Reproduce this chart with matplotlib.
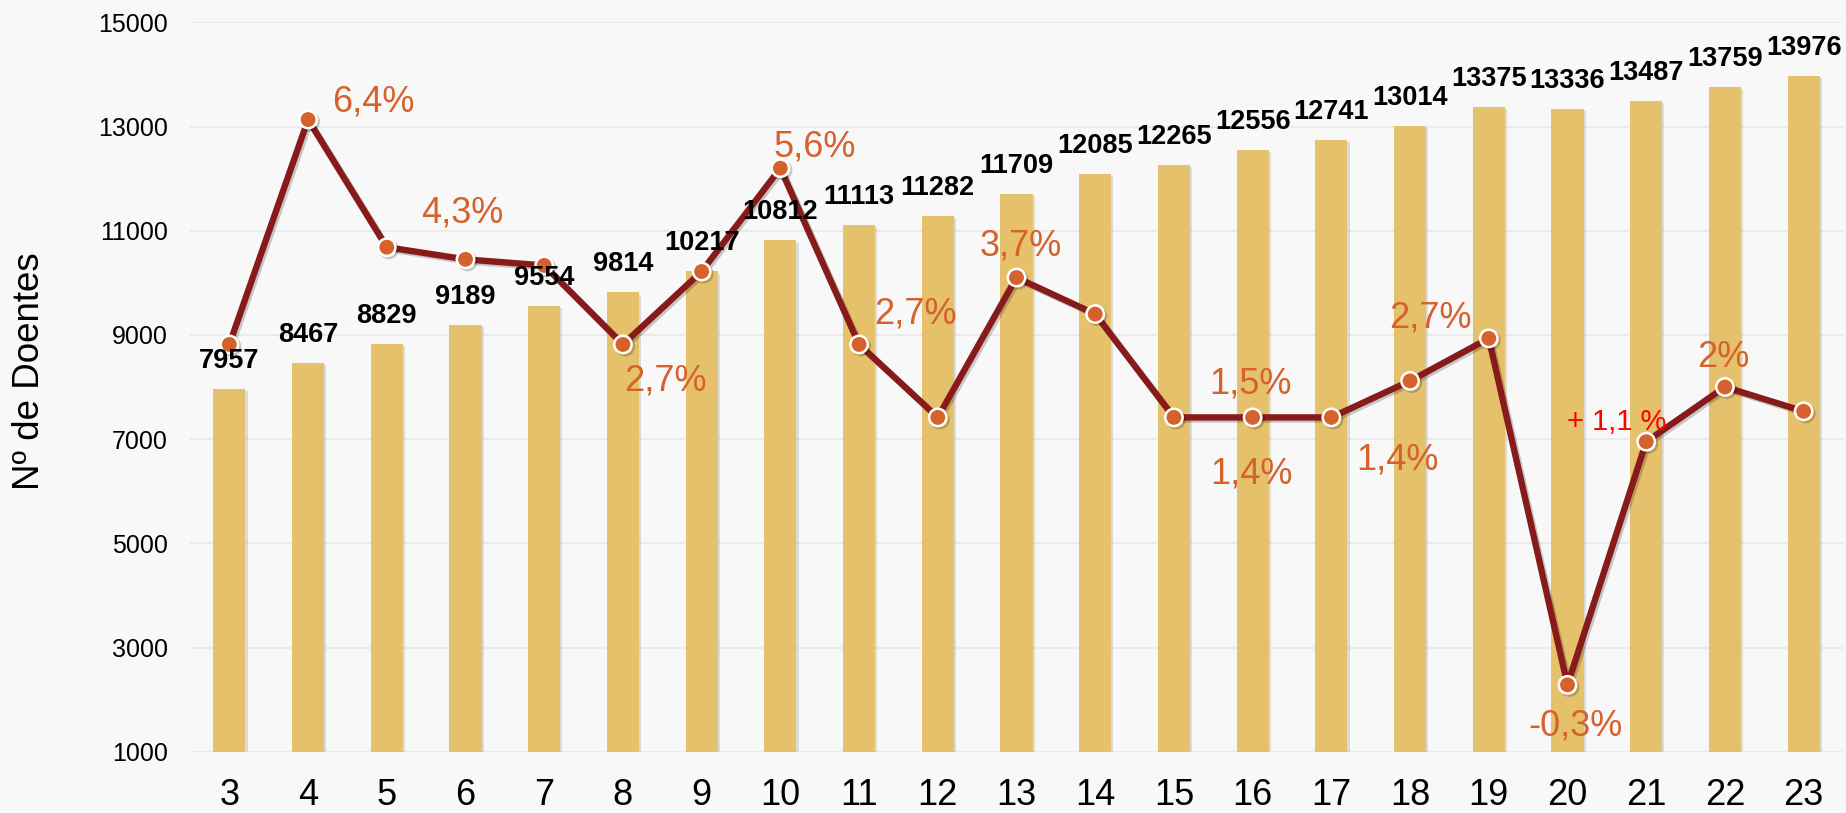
import matplotlib
matplotlib.use("Agg")
import matplotlib.pyplot as plt
import matplotlib.patheffects as pe

plt.rcParams['font.family'] = ['Liberation Sans', 'DejaVu Sans']

# ---- data ----
categories = ['3', '4', '5', '6', '7', '8', '9', '10', '11', '12', '13',
              '14', '15', '16', '17', '18', '19', '20', '21', '22', '23']
doentes = [7957, 8467, 8829, 9189, 9554, 9814, 10217, 10812, 11113, 11282, 11709,
           12085, 12265, 12556, 12741, 13014, 13375, 13336, 13487, 13759, 13976]
crescimento = [2.7, 6.4, 4.3, 4.1, 4.0, 2.7, 3.9, 5.6, 2.7, 1.5, 3.8,
               3.2, 1.5, 1.5, 1.5, 2.1, 2.8, -2.9, 1.1, 2.0, 1.6]
yticks = [1000, 3000, 5000, 7000, 9000, 11000, 13000, 15000]

# growth annotations: text, (x category index, y in primary units of baseline)
pct_labels = ['6,4%', '4,3%', '2,7%', '5,6%', '2,7%', '3,7%', '1,5%',
              '1,4%', '1,4%', '2,7%', '-0,3%', '2%']
pct_pos = [(1.83, 13290), (2.96, 11150), (5.54, 7930), (7.43, 12420),
           (8.72, 9220), (10.05, 10520), (12.97, 7880), (12.99, 6150),
           (14.84, 6420), (15.26, 9150), (17.10, 1320), (18.98, 8390)]
red_label = '+ 1,1 %'
red_pos = (17.63, 7175)

# ---- style ----
bg = '#F8F8F8'
bar_color = '#E6C16B'
line_color = '#871B1B'
marker_color = '#D5612B'
text_orange = '#D5612B'

fig = plt.figure(figsize=(18.46, 8.13), dpi=100, facecolor=bg)
ax = fig.add_axes([190 / 1846, 1 - 751.7 / 813, (1843 - 190) / 1846, 729.4 / 813])
ax.set_facecolor(bg)

x = list(range(len(categories)))
bars = ax.bar(x, doentes, width=0.41, bottom=0, color=bar_color, zorder=2)
for b in bars:
    b.set_path_effects([pe.SimplePatchShadow(offset=(1.5, -1.5), shadow_rgbFace='#888888', alpha=0.25),
                        pe.Normal()])

ax.set_ylim(1000, 15000)
ax.set_xlim(-0.5, len(categories) - 0.5)
ax.set_yticks(yticks)
ax.set_yticklabels([str(t) for t in yticks], fontsize=18)
ax.set_xticks(x)
ax.set_xticklabels(categories, fontsize=26)
ax.tick_params(axis='y', length=0, pad=16)
ax.tick_params(axis='x', length=0, pad=19)
ax.grid(axis='y', color='#EAEAEA', linewidth=1.5, zorder=0)
ax.set_axisbelow(True)
for s in ax.spines.values():
    s.set_visible(False)

ax.set_ylabel('Nº de Doentes', fontsize=26.5, va='center')
ax.yaxis.set_label_coords(-0.0968, 0.522)

# secondary (hidden) axis for growth line
ax2 = ax.twinx()
ax2.set_ylim(-4, 8)
ax2.axis('off')
ax2.plot(x, crescimento, color=line_color, linewidth=4.6, marker='o',
         markersize=12.5, markerfacecolor=marker_color, markeredgecolor='white',
         markeredgewidth=1.8, zorder=3,
         path_effects=[pe.SimpleLineShadow(offset=(1.5, -1.5), alpha=0.2), pe.Normal()])

# bar value labels
for i, v in enumerate(doentes):
    ax2.annotate(str(v), xy=(i, v), xycoords=ax.transData, xytext=(0, 20.2),
                 textcoords='offset points', ha='center', va='center',
                 fontsize=19.5, fontweight='bold', color='black', zorder=5)

# growth labels
for s, (px, py) in zip(pct_labels, pct_pos):
    ax2.text(px, py, s, transform=ax.transData, ha='center', va='baseline',
             fontsize=26, color=text_orange, zorder=5)
ax2.text(red_pos[0], red_pos[1], red_label, transform=ax.transData, ha='center',
         va='baseline', fontsize=21, color='#FF0000', zorder=5)

fig.savefig('out.png', dpi=100, facecolor=bg)
